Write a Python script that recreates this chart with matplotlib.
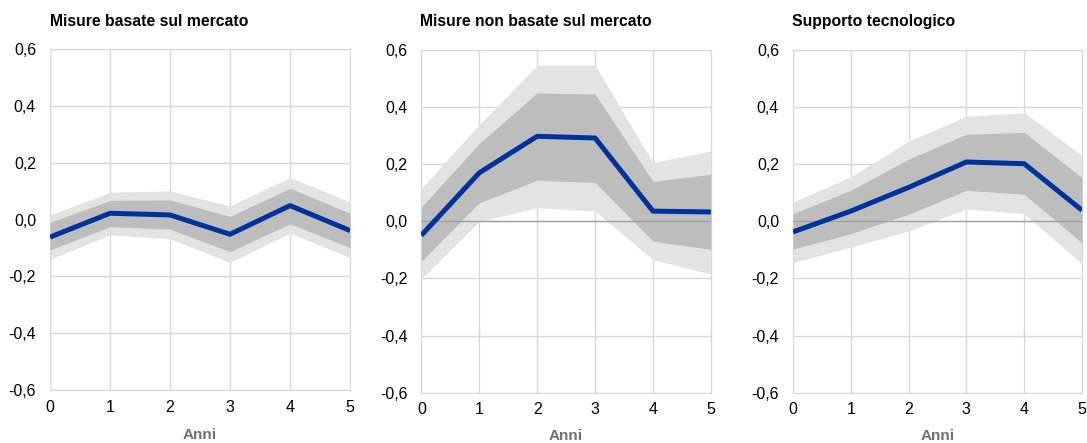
import numpy as np
import matplotlib.pyplot as plt
from matplotlib.ticker import FuncFormatter

plt.rcParams['font.family'] = ['Liberation Sans', 'DejaVu Sans']

anni = [0, 1, 2, 3, 4, 5]

titoli = ["Misure basate sul mercato",
          "Misure non basate sul mercato",
          "Supporto tecnologico"]

# stima puntuale
mercato = [-0.062, 0.022, 0.016, -0.052, 0.049, -0.039]
non_mercato = [-0.049, 0.170, 0.298, 0.292, 0.036, 0.033]
tecnologico = [-0.037, 0.036, 0.119, 0.208, 0.202, 0.039]

# bande interne (scure)
mercato_alto_int = [-0.010, 0.067, 0.069, 0.011, 0.110, 0.022]
mercato_basso_int = [-0.107, -0.025, -0.034, -0.113, -0.015, -0.099]
non_mercato_alto_int = [0.050, 0.273, 0.450, 0.446, 0.140, 0.165]
non_mercato_basso_int = [-0.140, 0.065, 0.144, 0.136, -0.069, -0.098]
tecnologico_alto_int = [0.027, 0.109, 0.218, 0.305, 0.312, 0.153]
tecnologico_basso_int = [-0.097, -0.043, 0.025, 0.109, 0.095, -0.075]

# bande esterne (chiare)
mercato_alto_est = [0.016, 0.096, 0.101, 0.048, 0.148, 0.062]
mercato_basso_est = [-0.140, -0.054, -0.068, -0.151, -0.048, -0.134]
non_mercato_alto_est = [0.115, 0.339, 0.547, 0.547, 0.206, 0.247]
non_mercato_basso_est = [-0.201, 0.000, 0.048, 0.036, -0.134, -0.184]
tecnologico_alto_est = [0.067, 0.156, 0.281, 0.368, 0.381, 0.230]
tecnologico_basso_est = [-0.144, -0.090, -0.034, 0.044, 0.027, -0.149]

pannelli = [
    (mercato, mercato_basso_int, mercato_alto_int, mercato_basso_est, mercato_alto_est),
    (non_mercato, non_mercato_basso_int, non_mercato_alto_int, non_mercato_basso_est, non_mercato_alto_est),
    (tecnologico, tecnologico_basso_int, tecnologico_alto_int, tecnologico_basso_est, tecnologico_alto_est),
]

posizioni = [
    [0.046, 0.120, 0.276, 0.769],
    [0.3876, 0.1135, 0.2664, 0.7735],
    [0.7295, 0.1135, 0.2659, 0.7735],
]

fig = plt.figure(figsize=(10.87, 4.43), dpi=100)
fmt = FuncFormatter(lambda v, p: f"{v:.1f}".replace(".", ","))

for i, (stima, b_int, a_int, b_est, a_est) in enumerate(pannelli):
    ax = fig.add_axes(posizioni[i])
    ax.fill_between(anni, b_est, a_est, color="#e3e3e3", lw=0, zorder=2)
    ax.fill_between(anni, b_int, a_int, color="#bdbdbd", lw=0, zorder=3)
    ax.axhline(0, color="#a0a0a0", lw=1, zorder=1 if i == 0 else 4)
    ax.plot(anni, stima, color="#003399", lw=3.6, zorder=5, solid_capstyle="butt")

    ax.set_xlim(0, 5)
    ax.set_ylim(-0.6, 0.6)
    ax.set_xticks(anni)
    ax.set_yticks(np.arange(-0.6, 0.61, 0.2))
    ax.yaxis.set_major_formatter(fmt)
    ax.grid(True, color="#d9d9d9", lw=1, zorder=0)
    ax.set_axisbelow(True)
    for s in ax.spines.values():
        s.set_color("#d9d9d9")
    ax.tick_params(length=0, labelsize=11.5, colors="#000000")
    ax.tick_params(axis="y", pad=10)
    ax.tick_params(axis="x", pad=7)
    ax.set_xlabel("Anni", fontsize=11, fontweight="bold", color="#707070",
                  labelpad=10 if i == 0 else 8)
    ax.set_title(titoli[i], fontsize=11.3, fontweight="bold", loc="left",
                 x=-0.005 if i else 0.0, pad=17)

fig.savefig("out.png", dpi=100)
